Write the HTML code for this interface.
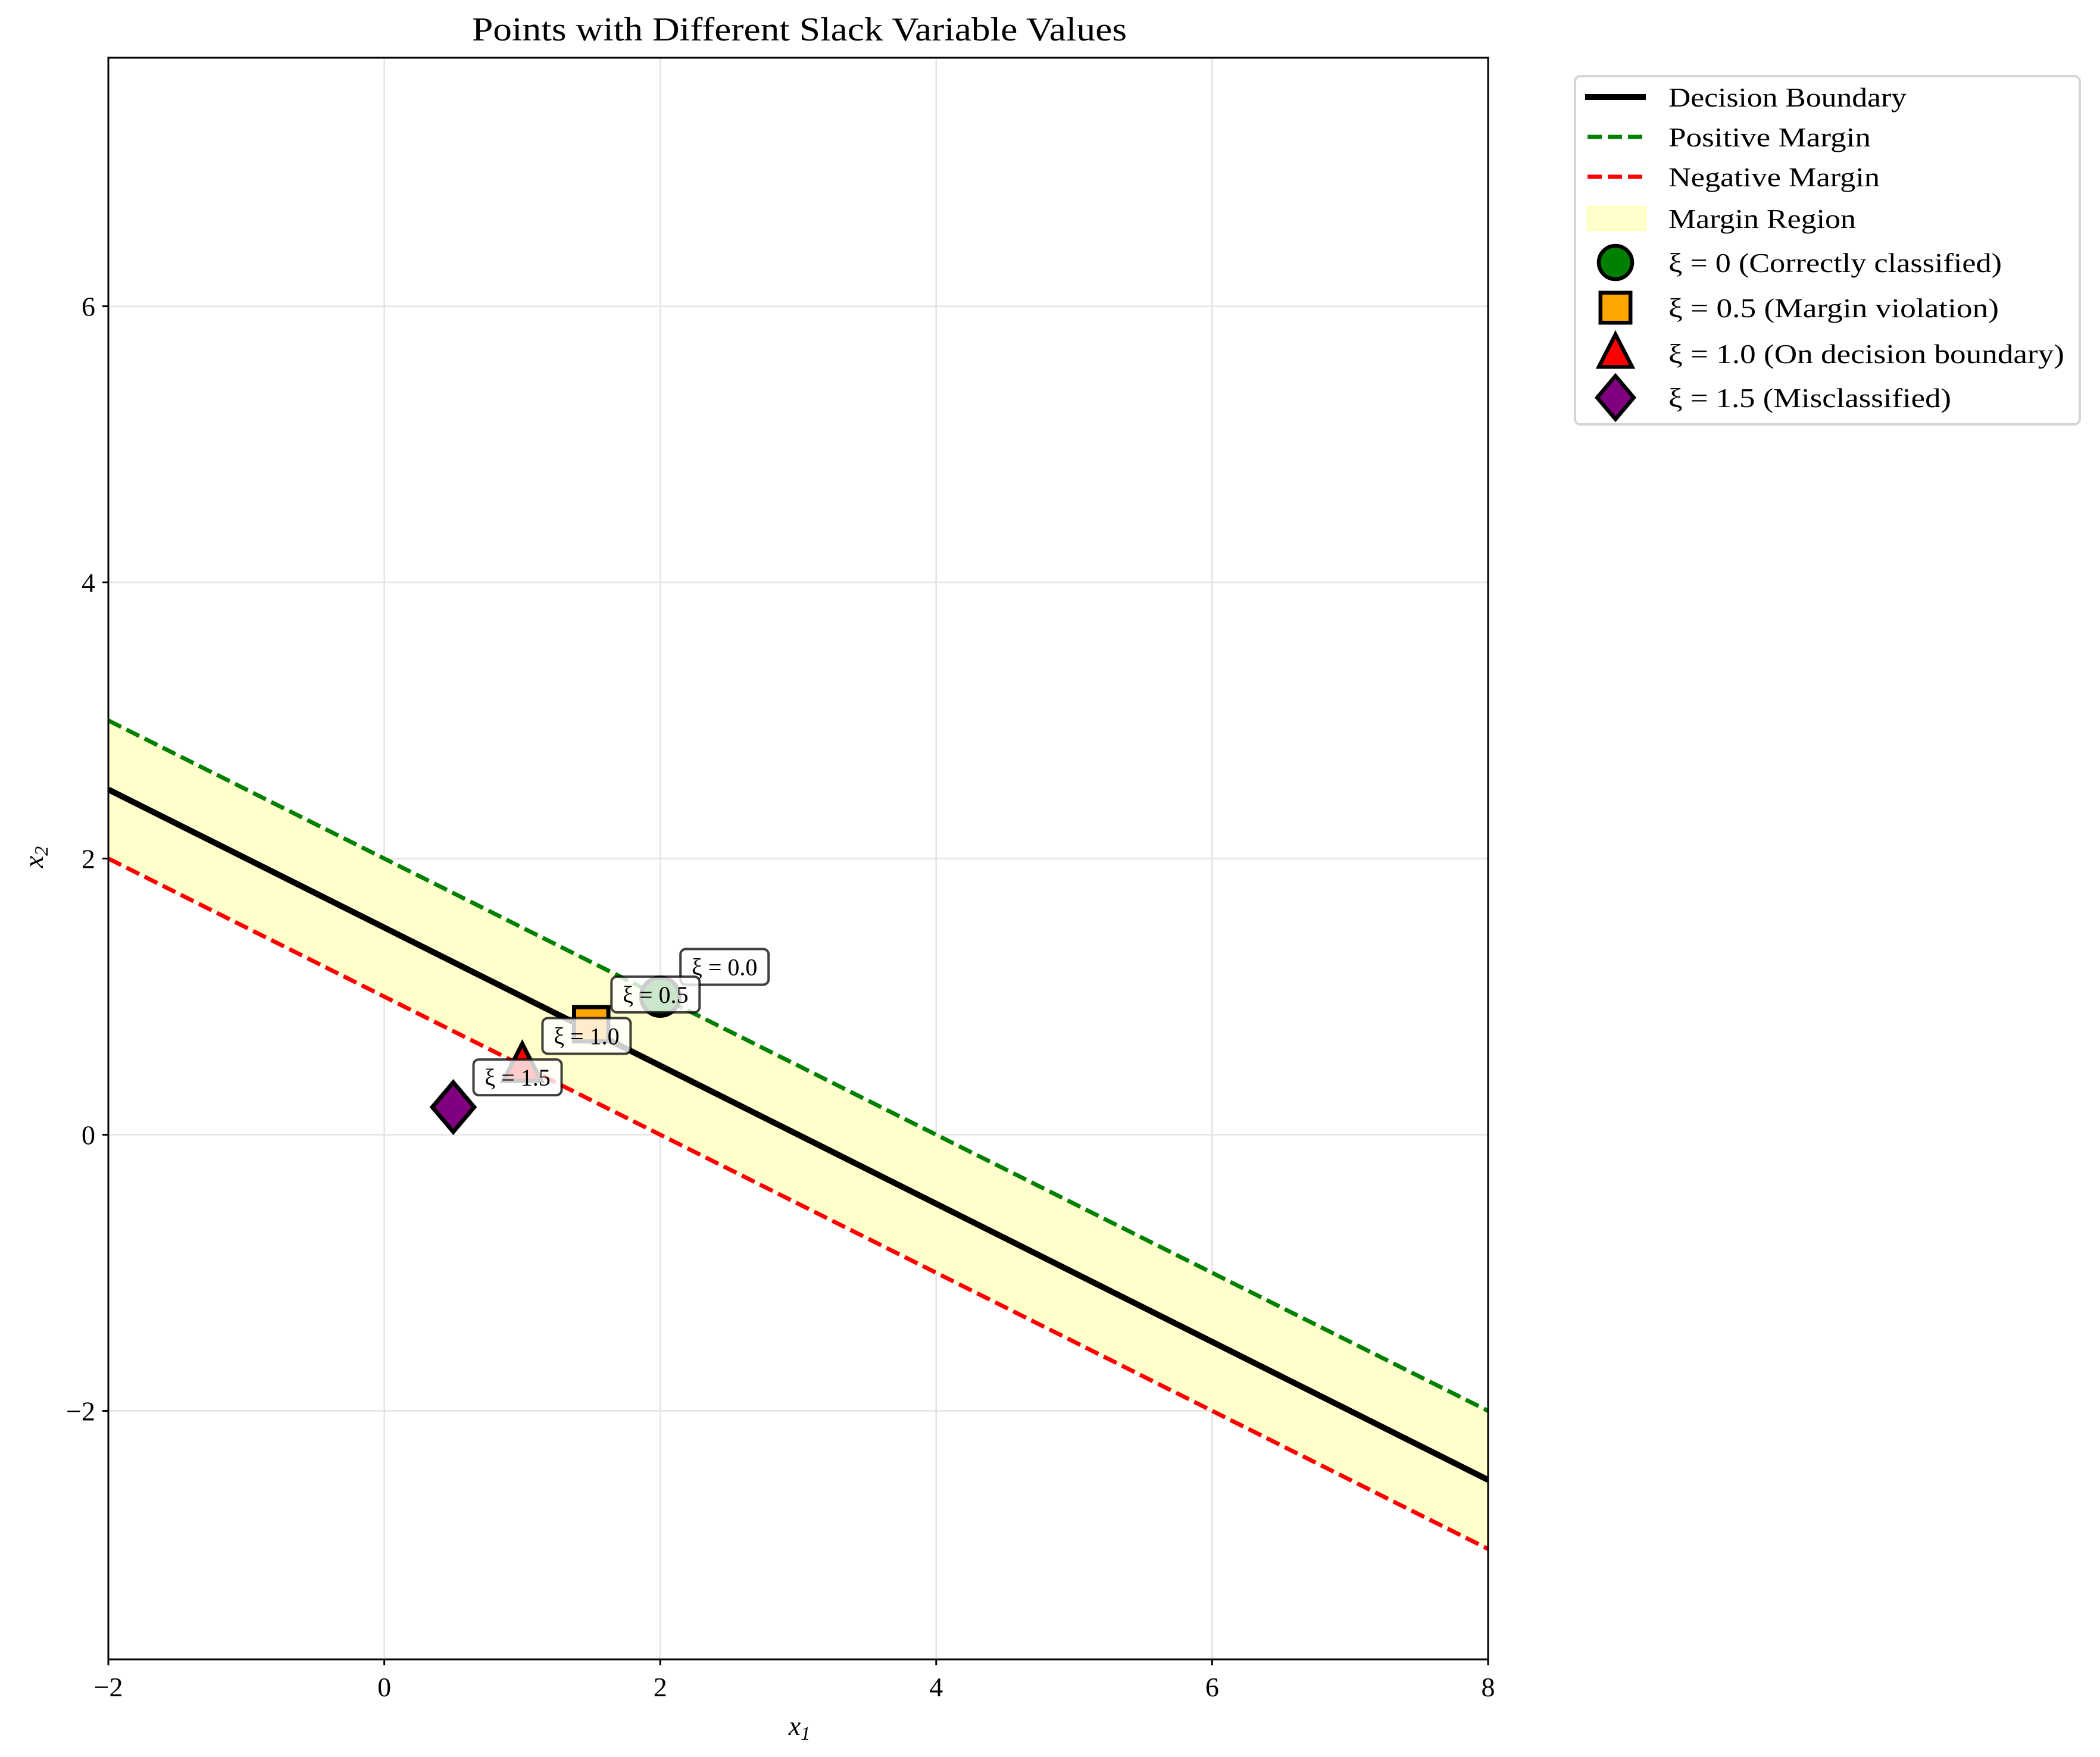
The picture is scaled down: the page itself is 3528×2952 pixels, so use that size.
<!DOCTYPE html>
<html><head><meta charset="utf-8"><style>html,body{margin:0;padding:0;background:#fff}svg{display:block}text{font-family:"Liberation Serif","DejaVu Serif",serif;fill:#000}</style></head>
<body>
<svg id="chart" xmlns="http://www.w3.org/2000/svg" width="3528" height="2952" viewBox="0 0 3528 2952">
<rect width="3528" height="2952" fill="#fff"/>
<text x="1343" y="68" font-size="56" text-anchor="middle" textLength="1100" lengthAdjust="spacingAndGlyphs">Points with Different Slack Variable Values</text>
<g id="plot"></g>
<text x="1343" y="2915" font-size="46" font-style="italic" text-anchor="middle">x<tspan font-size="32" dy="8">1</tspan></text>
<text x="0" y="0" font-size="46" font-style="italic" text-anchor="middle" transform="translate(72,1440) rotate(-90)">x<tspan font-size="32" dy="8">2</tspan></text>
<g id="legend"></g>
</svg>
<script>
const xTicks = [-2, 0, 2, 4, 6, 8];
const yTicks = [-2, 0, 2, 4, 6];
const lineXs = [-2, 8];
const boundaryIntercept = 1.5;
const boundarySlope = -0.5;
const marginOffset = 0.5;
const pointXs = [2, 1.5, 1.0, 0.5];
const pointYs = [1.0, 0.8, 0.5, 0.2];
const pointLabels = ["ξ = 0.0", "ξ = 0.5", "ξ = 1.0", "ξ = 1.5"];
const legendLabels = ["Decision Boundary","Positive Margin","Negative Margin","Margin Region","ξ = 0 (Correctly classified)","ξ = 0.5 (Margin violation)","ξ = 1.0 (On decision boundary)","ξ = 1.5 (Misclassified)"];

const NS = "http://www.w3.org/2000/svg";
const L = 182, R = 2500, T = 97, B = 2788;
const xMin = -2, xMax = 8, yMin = -3.8, yMax = 7.8;
const sx = v => L + (v - xMin) / (xMax - xMin) * (R - L);
const sy = v => B - (v - yMin) / (yMax - yMin) * (B - T);
function mk(tag, attrs, parent) {
  const e = document.createElementNS(NS, tag);
  for (const k in attrs) e.setAttribute(k, attrs[k]);
  parent.appendChild(e);
  return e;
}
const plot = document.getElementById('plot');
const clip = mk('clipPath', {id: 'clipArea'}, plot);
mk('rect', {x: L, y: T, width: R - L, height: B - T}, clip);

xTicks.forEach(t => {
  const g = mk('line', {x1: sx(t), x2: sx(t), y1: T, y2: B, stroke: '#e3e3e3', 'stroke-width': 2.5}, plot);
  
  
});
yTicks.forEach(t => {
  const g = mk('line', {x1: L, x2: R, y1: sy(t), y2: sy(t), stroke: '#e3e3e3', 'stroke-width': 2.5}, plot);
  
  
});

const fy = (x, off) => boundaryIntercept + boundarySlope * x + off;
const cg = mk('g', {'clip-path': 'url(#clipArea)'}, plot);
const x0 = lineXs[0], x1 = lineXs[1];
const region = mk('polygon', {points: `${sx(x0)},${sy(fy(x0, marginOffset))} ${sx(x1)},${sy(fy(x1, marginOffset))} ${sx(x1)},${sy(fy(x1, -marginOffset))} ${sx(x0)},${sy(fy(x0, -marginOffset))}`, fill: '#ffffcc'}, cg);


const db = mk('line', {x1: sx(x0), y1: sy(fy(x0, 0)), x2: sx(x1), y2: sy(fy(x1, 0)), stroke: '#000', 'stroke-width': 10}, cg);


const pm = mk('line', {x1: sx(x0), y1: sy(fy(x0, marginOffset)), x2: sx(x1), y2: sy(fy(x1, marginOffset)), stroke: '#008000', 'stroke-width': 7, 'stroke-dasharray': '24 10'}, cg);


const nm = mk('line', {x1: sx(x0), y1: sy(fy(x0, -marginOffset)), x2: sx(x1), y2: sy(fy(x1, -marginOffset)), stroke: '#ff0000', 'stroke-width': 7, 'stroke-dasharray': '24 10'}, cg);



const colors = ['#008000', '#ffa500', '#ff0000', '#800080'];
function marker(kind, cx, cy, r, parent, sw) {
  let e;
  if (kind === 0) e = mk('circle', {cx, cy, r}, parent);
  else if (kind === 1) e = mk('rect', {x: cx - r * 0.9, y: cy - r * 0.9, width: r * 1.8, height: r * 1.8}, parent);
  else if (kind === 2) e = mk('polygon', {points: `${cx},${cy - r * 1.15} ${cx + r * 1.0},${cy + r * 0.8} ${cx - r * 1.0},${cy + r * 0.8}`}, parent);
  else e = mk('polygon', {points: `${cx},${cy - r * 1.3} ${cx + r * 1.1},${cy} ${cx},${cy + r * 1.3} ${cx - r * 1.1},${cy}`}, parent);
  e.setAttribute('fill', colors[kind]);
  e.setAttribute('stroke', '#000');
  e.setAttribute('stroke-width', sw);
  e.setAttribute('stroke-linejoin', 'miter');
  return e;
}
const ptNames = ['point-xi-0', 'point-xi-0-5', 'point-xi-1-0', 'point-xi-1-5'];
pointXs.forEach((px, i) => {
  const e = marker(i, sx(px), sy(pointYs[i]), 32, plot, 7);
  
  
});
pointXs.forEach((px, i) => {
  const g = mk('g', {}, plot);
  
  
  const bx = sx(px) + 34, by = sy(pointYs[i]) - 80;
  mk('rect', {x: bx, y: by, width: 148, height: 60, rx: 9, fill: '#fff', 'fill-opacity': 0.8, stroke: '#000', 'stroke-opacity': 0.75, 'stroke-width': 4}, g);
  const t = mk('text', {x: bx + 74, y: by + 44, 'font-size': 40, 'text-anchor': 'middle'}, g);
  t.textContent = pointLabels[i];
});

const frame = mk('rect', {x: L, y: T, width: R - L, height: B - T, fill: 'none', stroke: '#000', 'stroke-width': 3}, plot);


xTicks.forEach(t => {
  mk('line', {x1: sx(t), x2: sx(t), y1: B, y2: B + 10, stroke: '#000', 'stroke-width': 3}, plot);
  const lb = mk('text', {x: sx(t), y: B + 62, 'font-size': 46, 'text-anchor': 'middle'}, plot);
  lb.textContent = t < 0 ? '−' + Math.abs(t) : String(t);
  
  
});
yTicks.forEach(t => {
  mk('line', {x1: L - 10, x2: L, y1: sy(t), y2: sy(t), stroke: '#000', 'stroke-width': 3}, plot);
  const lb = mk('text', {x: L - 22, y: sy(t) + 16, 'font-size': 46, 'text-anchor': 'end'}, plot);
  lb.textContent = t < 0 ? '−' + Math.abs(t) : String(t);
  
  
});

const lg = document.getElementById('legend');
const box = mk('rect', {x: 2646, y: 128, width: 848, height: 585, rx: 9, fill: '#fff', stroke: '#d5d5d5', 'stroke-width': 4}, lg);


const rowY = [163, 230, 297, 367, 441, 517, 594, 668];
const legendWidths = [400, 340, 355, 315, 560, 555, 665, 475];
legendLabels.forEach((lab, i) => {
  const g = mk('g', {}, lg);
  
  
  const y = rowY[i];
  if (i === 0) mk('line', {x1: 2663, x2: 2765, y1: y, y2: y, stroke: '#000', 'stroke-width': 10}, g);
  else if (i === 1) mk('line', {x1: 2667, x2: 2765, y1: y, y2: y, stroke: '#008000', 'stroke-width': 7, 'stroke-dasharray': '24 10'}, g);
  else if (i === 2) mk('line', {x1: 2667, x2: 2765, y1: y, y2: y, stroke: '#ff0000', 'stroke-width': 7, 'stroke-dasharray': '24 10'}, g);
  else if (i === 3) mk('rect', {x: 2667, y: y - 20, width: 98, height: 40, fill: '#ffffcc', stroke: '#ffffaa', 'stroke-width': 2}, g);
  else marker(i - 4, 2714, y, 28, g, 6.5);
  const t = mk('text', {x: 2803, y: y + 16, 'font-size': 46, textLength: legendWidths[i], lengthAdjust: 'spacingAndGlyphs'}, g);
  t.textContent = lab;
});
</script>
</body></html>
